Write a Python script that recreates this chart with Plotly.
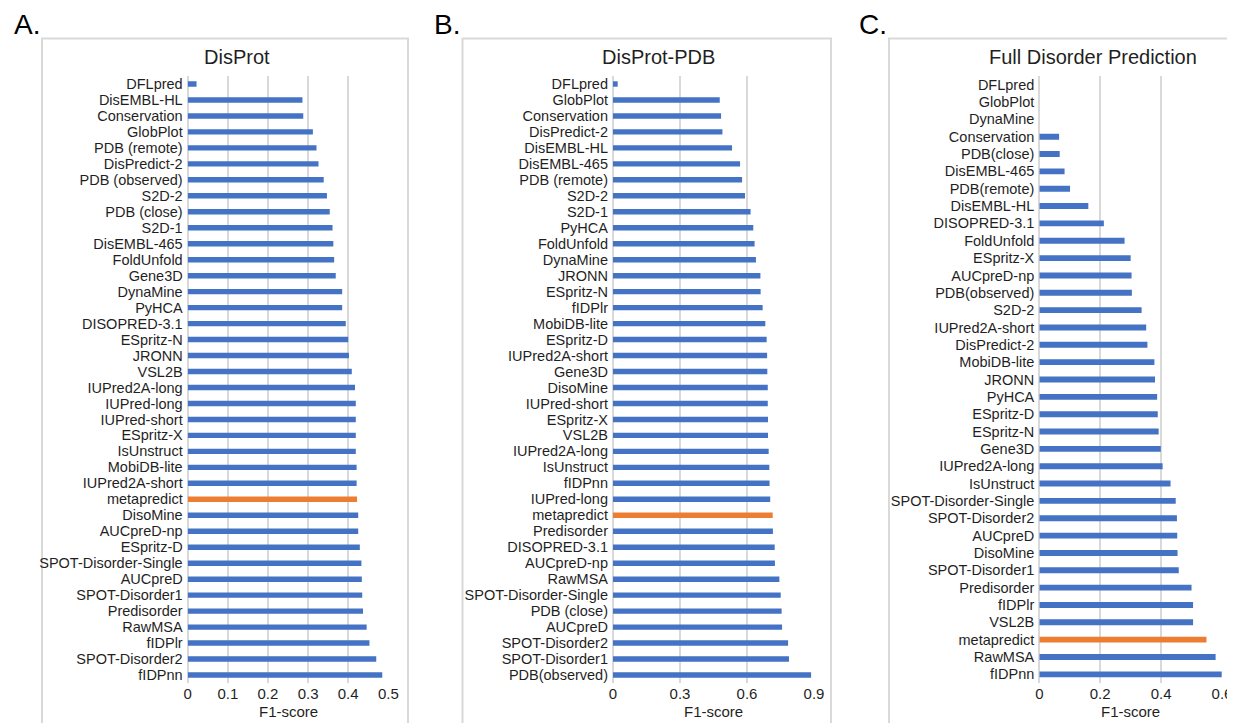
import plotly.graph_objects as go

# ---------------- data ----------------
cats_a = ["DFLpred", "DisEMBL-HL", "Conservation", "GlobPlot", "PDB (remote)", "DisPredict-2",
          "PDB (observed)", "S2D-2", "PDB (close)", "S2D-1", "DisEMBL-465", "FoldUnfold", "Gene3D",
          "DynaMine", "PyHCA", "DISOPRED-3.1", "ESpritz-N", "JRONN", "VSL2B", "IUPred2A-long",
          "IUPred-long", "IUPred-short", "ESpritz-X", "IsUnstruct", "MobiDB-lite", "IUPred2A-short",
          "metapredict", "DisoMine", "AUCpreD-np", "ESpritz-D", "SPOT-Disorder-Single", "AUCpreD",
          "SPOT-Disorder1", "Predisorder", "RawMSA", "fIDPlr", "SPOT-Disorder2", "fIDPnn"]
vals_a = [0.022, 0.286, 0.288, 0.312, 0.321, 0.326, 0.339, 0.347, 0.354, 0.361, 0.363, 0.365, 0.369,
          0.385, 0.385, 0.394, 0.400, 0.402, 0.409, 0.417, 0.419, 0.419, 0.419, 0.419, 0.421, 0.421,
          0.422, 0.425, 0.425, 0.429, 0.433, 0.434, 0.435, 0.437, 0.446, 0.453, 0.470, 0.485]

cats_b = ["DFLpred", "GlobPlot", "Conservation", "DisPredict-2", "DisEMBL-HL", "DisEMBL-465",
          "PDB (remote)", "S2D-2", "S2D-1", "PyHCA", "FoldUnfold", "DynaMine", "JRONN", "ESpritz-N",
          "fIDPlr", "MobiDB-lite", "ESpritz-D", "IUPred2A-short", "Gene3D", "DisoMine", "IUPred-short",
          "ESpritz-X", "VSL2B", "IUPred2A-long", "IsUnstruct", "fIDPnn", "IUPred-long", "metapredict",
          "Predisorder", "DISOPRED-3.1", "AUCpreD-np", "RawMSA", "SPOT-Disorder-Single", "PDB (close)",
          "AUCpreD", "SPOT-Disorder2", "SPOT-Disorder1", "PDB(observed)"]
vals_b = [0.021, 0.478, 0.484, 0.490, 0.533, 0.569, 0.578, 0.591, 0.616, 0.628, 0.634, 0.640, 0.660,
          0.661, 0.670, 0.682, 0.688, 0.690, 0.691, 0.693, 0.693, 0.694, 0.694, 0.697, 0.700, 0.701,
          0.704, 0.715, 0.716, 0.724, 0.725, 0.745, 0.751, 0.755, 0.757, 0.784, 0.788, 0.887]

cats_c = ["DFLpred", "GlobPlot", "DynaMine", "Conservation", "PDB(close)", "DisEMBL-465", "PDB(remote)",
          "DisEMBL-HL", "DISOPRED-3.1", "FoldUnfold", "ESpritz-X", "AUCpreD-np", "PDB(observed)", "S2D-2",
          "IUPred2A-short", "DisPredict-2", "MobiDB-lite", "JRONN", "PyHCA", "ESpritz-D", "ESpritz-N",
          "Gene3D", "IUPred2A-long", "IsUnstruct", "SPOT-Disorder-Single", "SPOT-Disorder2", "AUCpreD",
          "DisoMine", "SPOT-Disorder1", "Predisorder", "fIDPlr", "VSL2B", "metapredict", "RawMSA", "fIDPnn"]
vals_c = [0.0, 0.0, 0.0, 0.065, 0.067, 0.083, 0.101, 0.161, 0.212, 0.280, 0.300, 0.303, 0.304, 0.336,
          0.351, 0.355, 0.378, 0.380, 0.387, 0.389, 0.392, 0.399, 0.405, 0.431, 0.448, 0.452, 0.453,
          0.454, 0.458, 0.500, 0.505, 0.505, 0.549, 0.579, 0.599]

titles = ["DisProt", "DisProt-PDB", "Full Disorder Prediction"]
letters = ["A.", "B.", "C."]
ticks_a = [0, 0.1, 0.2, 0.3, 0.4, 0.5]
ticks_b = [0, 0.3, 0.6, 0.9]
ticks_c = [0, 0.2, 0.4, 0.6]
xlabel = "F1-score"
highlight = "metapredict"

# ---------------- style ----------------
OFF = 8                      # default page margin of the html body
W, H = 1235 - OFF, 723 - OFF
BLUE = "#4472C4"
ORANGE = "#ED7D31"
GRID = "#D9D9D9"
TXT = "#1f1f1f"
FONT = "Liberation Sans, Arial, sans-serif"

def px(x):
    return (x - OFF) / W

def py(y):
    return 1 - (y - OFF) / H

panels = [
    dict(cats=cats_a, vals=vals_a, ticks=ticks_a, rng=[0, 0.5], x0=187.7, x1=388.3,
         frame=(42, 408), letter_x=12, title_x=237, width=0.34),
    dict(cats=cats_b, vals=vals_b, ticks=ticks_b, rng=[0, 0.9], x0=613, x1=814,
         frame=(462.5, 831), letter_x=432, title_x=659, width=0.34),
    dict(cats=cats_c, vals=vals_c, ticks=ticks_c, rng=[0, 0.6], x0=1039.3, x1=1222,
         frame=(889, 1260), letter_x=857, title_x=1093, width=0.34),
]

plot_top, plot_bot = 76, 683

fig = go.Figure()
shapes = []
annotations = []

for i, p in enumerate(panels):
    n = i + 1
    xa = "x" if n == 1 else f"x{n}"
    ya = "y" if n == 1 else f"y{n}"
    colors = [ORANGE if c == highlight else BLUE for c in p["cats"]]
    fig.add_trace(go.Bar(
        x=p["vals"], y=p["cats"], orientation="h",
        marker=dict(color=colors, line=dict(width=0)),
        width=p["width"], xaxis=xa, yaxis=ya, showlegend=False, hoverinfo="x+y",
    ))
    xkey = "xaxis" if n == 1 else f"xaxis{n}"
    ykey = "yaxis" if n == 1 else f"yaxis{n}"
    fig.update_layout(**{
        xkey: dict(domain=[px(p["x0"]), px(p["x1"])], range=p["rng"], anchor=ya,
                   tickmode="array", tickvals=p["ticks"], ticktext=[("%g" % t) for t in p["ticks"]],
                   showgrid=True, gridcolor=GRID, gridwidth=2,
                   zeroline=True, zerolinecolor=GRID, zerolinewidth=2,
                   showline=False, ticks="", ticklabelstandoff=0, automargin=False,
                   tickfont=dict(family=FONT, size=15, color=TXT), fixedrange=True),
        ykey: dict(domain=[py(plot_bot), py(plot_top)], anchor=xa, type="category",
                   categoryorder="array", categoryarray=p["cats"],
                   tickmode="array", tickvals=p["cats"], ticktext=p["cats"],
                   autorange="reversed", showgrid=False, zeroline=False, showline=False,
                   ticks="", ticklabelstandoff=4, automargin=False,
                   tickfont=dict(family=FONT, size=14.5, color=TXT), fixedrange=True),
    })
    # frame (panel border)
    shapes.append(dict(type="rect", xref="paper", yref="paper",
                       x0=px(p["frame"][0]), x1=px(p["frame"][1]), y0=py(760), y1=py(38.5),
                       line=dict(color=GRID, width=2), fillcolor="rgba(0,0,0,0)", layer="below"))
    # title
    annotations.append(dict(text=titles[i], x=px(p["title_x"]), y=py(57), xref="paper", yref="paper",
                            xanchor="center", yanchor="middle", showarrow=False,
                            font=dict(family=FONT, size=20, color=TXT)))
    # panel letter
    annotations.append(dict(text=letters[i], x=px(p["letter_x"]), y=py(24), xref="paper", yref="paper",
                            xanchor="left", yanchor="middle", showarrow=False,
                            font=dict(family=FONT, size=28, color="#000000")))
    # axis label
    annotations.append(dict(text=xlabel, x=px((p["x0"] + p["x1"]) / 2), y=py(711), xref="paper",
                            yref="paper", xanchor="center", yanchor="middle", showarrow=False,
                            font=dict(family=FONT, size=15, color=TXT)))

fig.update_layout(
    template="none",
    width=W, height=H, margin=dict(l=0, r=0, t=0, b=0, pad=0),
    paper_bgcolor="white", plot_bgcolor="white",
    shapes=shapes, annotations=annotations, showlegend=False,
    font=dict(family=FONT, color=TXT),
)

fig.write_html("out.html")
